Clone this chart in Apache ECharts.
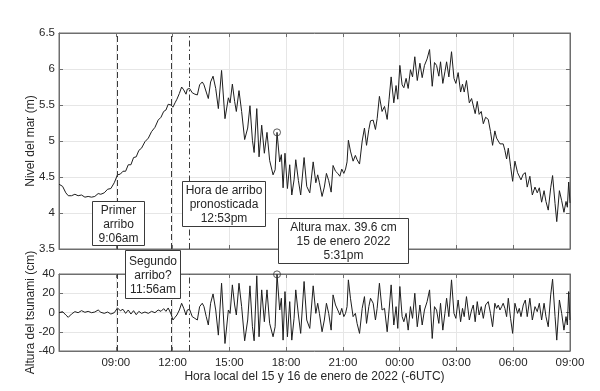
<!DOCTYPE html>
<html>
<head>
<meta charset="utf-8">
<script src="https://cdn.jsdelivr.net/npm/echarts@6/dist/echarts.min.js"></script>
<style>
html,body{margin:0;padding:0;background:#fff;}
#chart{width:600px;height:391px;}
</style>
</head>
<body>
<div id="chart"></div>
<script>
// Hours since 06:00 local time, 15 Jan 2022
const hours = [0.00,0.19,0.36,0.49,0.66,0.84,1.01,1.19,1.37,1.54,1.72,1.89,2.07,2.21,2.39,2.57,2.74,2.92,3.09,3.24,3.38,3.52,3.66,3.80,3.94,4.08,4.22,4.36,4.54,4.72,4.89,5.07,5.24,5.39,5.53,5.65,5.77,5.92,6.02,6.13,6.23,6.36,6.48,6.59,6.71,
6.78,6.90,7.04,7.18,7.31,7.43,7.57,7.66,7.78,7.89,8.01,8.14,8.28,8.42,8.59,8.77,8.95,9.04,9.16,9.28,9.37,9.51,9.65,9.81,9.97,10.09,10.22,10.31,10.45,10.57,10.71,10.85,10.99,11.13,11.31,11.42,11.52,11.66,11.75,11.84,11.94,12.07,12.19,12.30,12.42,12.51,12.65,12.77,12.95,13.09,13.25,13.43,13.57,13.67,
13.76,13.90,14.02,14.13,14.25,14.38,14.48,14.61,14.73,14.84,14.94,15.05,15.14,15.22,15.29,15.40,15.54,15.66,15.75,15.88,16.02,16.14,16.25,16.37,16.46,16.60,16.72,16.81,16.93,17.07,17.20,17.34,17.44,17.55,17.69,17.81,17.90,18.01,18.13,18.22,18.34,18.45,18.57,18.68,18.80,18.93,19.07,19.19,19.31,19.45,19.58,19.72,19.84,19.95,20.07,20.16,20.28,
20.39,20.48,20.60,20.74,20.87,20.97,21.09,21.22,21.32,21.41,21.53,21.68,21.80,21.89,21.99,22.10,22.20,22.31,22.42,22.54,22.68,22.80,22.91,23.03,23.12,23.21,23.30,23.39,23.47,23.56,23.65,23.74,23.86,23.97,24.09,24.23,24.32,24.41,24.53,24.64,24.74,24.88,25.01,25.15,25.27,25.38,25.50,25.63,25.73,25.85,25.98,26.08,26.21,26.30,26.44,26.56,26.68,26.79,26.86,26.93,27.00];

// Sea level (m)
const seaLevelM = [4.40,4.37,4.28,4.24,4.24,4.26,4.24,4.25,4.22,4.23,4.22,4.23,4.27,4.26,4.28,4.33,4.34,4.42,4.53,4.54,4.58,4.58,4.67,4.67,4.77,4.78,4.87,4.90,4.99,5.04,5.13,5.19,5.29,5.33,5.41,5.43,5.51,5.50,5.47,5.53,5.58,5.66,5.75,5.71,5.65,
5.72,5.73,5.67,5.65,5.64,5.78,5.82,5.78,5.68,5.59,5.82,5.90,5.73,5.45,5.98,5.31,5.60,5.53,5.79,5.55,5.41,5.70,5.41,5.02,5.18,5.49,5.01,4.84,5.45,4.78,5.22,4.83,5.12,4.73,4.53,4.60,5.12,4.71,4.81,4.35,4.83,4.34,4.67,4.25,4.46,4.74,4.45,4.25,4.77,4.37,4.28,4.71,4.42,4.53,
4.42,4.23,4.36,4.55,4.45,4.29,4.66,4.58,4.55,4.51,4.61,4.55,4.61,4.71,5.01,4.86,4.72,4.80,4.74,4.68,5.00,5.18,4.94,5.16,5.28,5.29,5.16,5.31,5.62,5.41,5.48,5.30,5.58,5.89,5.53,5.77,5.58,6.05,5.78,5.74,5.87,5.73,5.99,5.89,6.17,5.84,6.08,5.88,6.05,6.14,6.27,5.76,6.09,6.05,5.90,6.10,5.80,
5.96,6.10,5.89,6.24,5.87,5.80,5.95,5.68,5.79,5.68,5.84,5.53,5.59,5.61,5.38,5.55,5.37,5.41,5.24,5.33,5.30,5.13,4.94,5.14,5.04,5.04,4.96,4.95,4.96,4.87,4.75,4.90,4.65,4.44,4.72,4.56,4.57,4.46,4.54,4.56,4.36,4.51,4.25,4.36,4.28,4.35,4.15,4.31,4.16,4.04,4.35,4.52,4.13,3.88,4.31,4.17,4.01,4.16,4.08,4.43,4.14];

// Tsunami height (cm)
const tsunamiCm = [-0.2,0.9,-2.6,-5.0,-1.6,0.9,-0.2,1.9,0.2,1.2,-0.2,0.5,2.6,0.2,-0.9,0.5,-1.6,-0.2,4.7,1.9,3.3,-0.9,2.6,-1.6,1.9,-2.3,1.2,-0.9,0.5,-0.9,1.2,-0.2,2.6,1.2,4.0,1.2,4.7,-1.6,-7.8,-5.0,-2.6,2.6,9.6,4.4,-2.6,
2.6,3.3,-4.3,-6.1,-7.8,6.1,9.6,6.1,-4.3,-13.0,9.6,19.3,2.6,-23.5,30.4,-32.2,2.6,-0.9,28.7,7.8,-2.6,30.4,6.1,-29.4,-7.8,27.7,-14.8,-29.4,38.1,-25.2,23.5,-9.6,23.5,-11.3,-25.2,-14.8,39.6,2.6,14.8,-28.7,21.7,-25.2,11.3,-28.7,-6.1,23.5,-2.6,-21.7,32.2,-7.8,-16.5,27.7,-0.9,9.6,
-0.9,-20.0,-7.8,9.6,-0.9,-18.3,18.3,7.8,2.6,-2.6,4.3,-4.3,-0.9,6.1,33.9,14.8,-4.3,-0.9,-11.3,-21.7,4.3,16.5,-11.3,6.1,14.8,9.6,-7.8,4.3,30.4,2.6,4.3,-20.0,2.6,28.7,-13.0,6.1,-16.5,27.0,-4.3,-9.6,-0.9,-18.3,6.1,-6.1,20.0,-14.8,7.8,-13.0,2.6,11.3,23.5,-27.0,6.1,2.6,-11.3,9.6,-18.3,
-0.9,14.8,-4.3,33.9,-0.9,-6.1,13.0,-9.6,4.3,-4.3,16.5,-7.8,2.6,7.8,-9.6,11.3,-2.6,6.1,-6.1,7.8,11.3,-0.9,-14.8,9.6,4.3,7.8,2.6,6.1,9.6,4.3,-4.3,14.8,-6.1,-21.7,9.6,-0.9,4.3,-4.3,7.8,13.0,-4.3,14.8,-7.8,6.1,0.9,9.6,-7.8,9.6,-4.3,-14.8,18.3,34.6,-4.3,-28.7,13.0,-0.9,-18.3,-4.3,-13.0,21.7,-7.8];

// Event times (hours since 06:00): first arrival 9:06, second arrival 11:56, forecast 12:53
const eventHours = [3.10, 5.933, 6.883];
const eventStyles = ['dashed', 'dashed', 'dashdot'];
// Max tsunami height: 39.6 cm at 17:31
const maxHour = 11.52;
const maxSeaLevel = 5.12;
const maxTsunami = 39.6;

const xTickLabels = ['', '09:00', '12:00', '15:00', '18:00', '21:00', '00:00', '03:00', '06:00', '09:00'];

const FONT = "'Liberation Sans', Arial, Helvetica, sans-serif";
const AXIS_COLOR = '#6e6e6e';
const TEXT_COLOR = '#262626';
const GRID_COLOR = '#e6e6e6';
const LINE_COLOR = '#1e1e1e';

const chart = echarts.init(document.getElementById('chart'), null, {renderer: 'canvas'});

function xAx(gridIndex, opts) {
  return Object.assign({
    type: 'value', gridIndex: gridIndex, min: 0, max: 27, interval: 3,
    axisLine: {show: true, onZero: false, lineStyle: {color: AXIS_COLOR, width: 1}},
    axisTick: {show: true, inside: true, length: 4, lineStyle: {color: AXIS_COLOR}},
    axisLabel: {show: false},
    splitLine: {show: false}
  }, opts);
}
function yAx(gridIndex, min, max, interval, opts) {
  return Object.assign({
    type: 'value', gridIndex: gridIndex, min: min, max: max, interval: interval,
    axisLine: {show: true, onZero: false, lineStyle: {color: AXIS_COLOR, width: 1}},
    axisTick: {show: true, inside: true, length: 4, lineStyle: {color: AXIS_COLOR}},
    axisLabel: {show: false},
    splitLine: {show: false}
  }, opts);
}

const markLineData = eventHours.map((h, i) => ({
  xAxis: h,
  lineStyle: {type: eventStyles[i] === 'dashed' ? [6, 3] : [6, 3, 1.5, 3], color: '#3a3a3a', width: 1}
}));

function boxText(x, y, w, h, text) {
  return [
    {type: 'rect', z: 100, shape: {x: x, y: y, width: w, height: h},
     style: {fill: '#ffffff', stroke: '#3a3a3a', lineWidth: 1}},
    {type: 'text', z: 101, x: x + w / 2, y: y + h / 2 + 1,
     style: {text: text, fill: TEXT_COLOR, font: '12px ' + FONT,
             textAlign: 'center', textVerticalAlign: 'middle', align: 'center', verticalAlign: 'middle', lineHeight: 14}}
  ];
}

const option = {
  animation: false,
  backgroundColor: '#ffffff',
  textStyle: {fontFamily: FONT},
  grid: [
    {left: 59, right: 30, top: 33, height: 216, show: true, borderColor: AXIS_COLOR, borderWidth: 1, containLabel: false},
    {left: 59, right: 30, top: 274, height: 77, show: true, borderColor: AXIS_COLOR, borderWidth: 1, containLabel: false}
  ],
  xAxis: [
    xAx(0, {position: 'bottom', splitLine: {show: true, lineStyle: {color: GRID_COLOR, width: 1}}}),
    xAx(0, {position: 'top'}),
    xAx(1, {position: 'bottom',
      splitLine: {show: true, lineStyle: {color: GRID_COLOR, width: 1}},
      axisLabel: {show: true, color: TEXT_COLOR, fontSize: 11.5, fontFamily: FONT, margin: 6, hideOverlap: false,
        formatter: function (v) { return xTickLabels[Math.round(v / 3)]; }},
      name: 'Hora local del 15 y 16 de enero de 2022 (-6UTC)', nameLocation: 'middle', nameGap: 20,
      nameMoveOverlap: false,
      nameTextStyle: {color: TEXT_COLOR, fontSize: 12, fontFamily: FONT}}),
    xAx(1, {position: 'top'})
  ],
  yAxis: [
    yAx(0, 3.5, 6.5, 0.5, {position: 'left',
      splitLine: {show: true, lineStyle: {color: GRID_COLOR, width: 1}},
      axisLabel: {show: true, color: TEXT_COLOR, fontSize: 11.5, fontFamily: FONT, margin: 4},
      name: 'Nivel del mar (m)', nameLocation: 'middle', nameGap: 22, nameRotate: 90,
      nameMoveOverlap: false,
      nameTextStyle: {color: TEXT_COLOR, fontSize: 12, fontFamily: FONT}}),
    yAx(0, 3.5, 6.5, 0.5, {position: 'right'}),
    yAx(1, -40, 40, 20, {position: 'left',
      splitLine: {show: true, lineStyle: {color: GRID_COLOR, width: 1}},
      axisLabel: {show: true, color: TEXT_COLOR, fontSize: 11.5, fontFamily: FONT, margin: 4},
      name: 'Altura del tsunami (cm)', nameLocation: 'middle', nameGap: 22, nameRotate: 90,
      nameMoveOverlap: false,
      nameTextStyle: {color: TEXT_COLOR, fontSize: 12, fontFamily: FONT}}),
    yAx(1, -40, 40, 20, {position: 'right'})
  ],
  series: [
    {
      type: 'line', xAxisIndex: 0, yAxisIndex: 0, showSymbol: false, symbol: 'none',
      lineStyle: {color: LINE_COLOR, width: 1}, z: 3,
      data: hours.map((h, i) => [h, seaLevelM[i]]),
      markLine: {silent: true, symbol: 'none', label: {show: false}, animation: false, data: markLineData}
    },
    {
      type: 'line', xAxisIndex: 2, yAxisIndex: 2, showSymbol: false, symbol: 'none',
      lineStyle: {color: LINE_COLOR, width: 1}, z: 3,
      data: hours.map((h, i) => [h, tsunamiCm[i]]),
      markLine: {silent: true, symbol: 'none', label: {show: false}, animation: false, data: markLineData}
    },
    {
      type: 'scatter', xAxisIndex: 0, yAxisIndex: 0, symbol: 'circle', symbolSize: 7, z: 4,
      itemStyle: {color: 'rgba(255,255,255,0)', borderColor: '#333333', borderWidth: 1},
      data: [[maxHour, maxSeaLevel]]
    },
    {
      type: 'scatter', xAxisIndex: 2, yAxisIndex: 2, symbol: 'circle', symbolSize: 7, z: 4,
      itemStyle: {color: 'rgba(255,255,255,0)', borderColor: '#333333', borderWidth: 1},
      data: [[maxHour, maxTsunami]]
    }
  ],
  graphic: [].concat(
    boxText(92.5, 201.5, 52, 44, 'Primer\narribo\n9:06am'),
    boxText(182.5, 181.5, 83, 45, 'Hora de arribo\npronosticada\n12:53pm'),
    boxText(278.5, 218.5, 130, 45, 'Altura max. 39.6 cm\n15 de enero 2022\n5:31pm'),
    boxText(125.5, 250.5, 55, 48, 'Segundo\narribo?\n11:56am')
  )
};
chart.setOption(option);
</script>
</body>
</html>
